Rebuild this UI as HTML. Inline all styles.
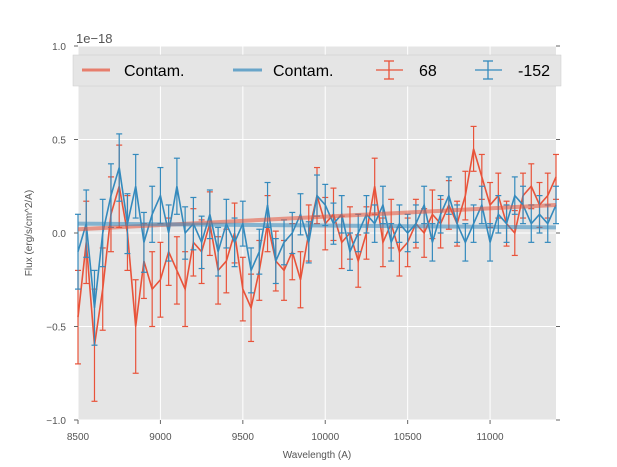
<!DOCTYPE html>
<html><head><meta charset="utf-8"><style>
body{margin:0;background:#fff;font-family:"Liberation Sans",sans-serif}
svg{display:block}
</style></head><body>
<svg width="617" height="467" id="c" xmlns="http://www.w3.org/2000/svg" font-family="Liberation Sans, sans-serif">
<rect x="78" y="46" width="478" height="374" fill="#e5e5e5"/>
<g id="grid"></g><g id="marks"></g><g id="axes"></g>
<text x="76" y="43" font-size="13" fill="#555">1e−18</text>
<text x="317" y="458" font-size="10" text-anchor="middle" fill="#555">Wavelength (A)</text>
<text transform="translate(32,233) rotate(-90)" font-size="10" text-anchor="middle" fill="#555">Flux (erg/s/cm^2/A)</text>
<g>
<rect x="73" y="55" width="488" height="31" fill="#e5e5e5" stroke="#ccc" stroke-width="0.5"/>
<g><line x1="82" y1="70" x2="110" y2="70" stroke="#e8533a" stroke-opacity="0.7" stroke-width="3"/><text x="124" y="76" font-size="16" fill="#000">Contam.</text></g>
<g><line x1="233" y1="70" x2="262" y2="70" stroke="#348abd" stroke-opacity="0.7" stroke-width="3"/><text x="273" y="76" font-size="16" fill="#000">Contam.</text></g>
<g stroke="#e8533a" stroke-width="1.3"><line x1="376" y1="70" x2="403" y2="70"/><line x1="389" y1="61" x2="389" y2="79"/><line x1="384" y1="61" x2="394" y2="61"/><line x1="384" y1="79" x2="394" y2="79"/><text x="419" y="76" font-size="16" fill="#000" stroke="none">68</text></g>
<g stroke="#348abd" stroke-width="1.3"><line x1="475" y1="70" x2="502" y2="70"/><line x1="488" y1="61" x2="488" y2="79"/><line x1="483" y1="61" x2="493" y2="61"/><line x1="483" y1="79" x2="493" y2="79"/><text x="518" y="76" font-size="16" fill="#000" stroke="none">-152</text></g>
</g>
</svg>
<script>
const wave=[8500,8550,8600,8650,8700,8750,8800,8850,8900,8950,9000,9050,9100,9150,9200,9250,9300,9350,9400,9450,9500,9550,9600,9650,9700,9750,9800,9850,9900,9950,10000,10050,10100,10150,10200,10250,10300,10350,10400,10450,10500,10550,10600,10650,10700,10750,10800,10850,10900,10950,11000,11050,11100,11150,11200,11250,11300,11350,11400];
const redFlux=[-0.45,-0.05,-0.6,-0.3,0.1,0.25,0.0,-0.5,-0.15,-0.3,-0.25,-0.1,-0.2,-0.3,-0.05,-0.1,0.05,-0.2,-0.15,0.0,-0.3,-0.4,-0.2,0.05,-0.15,-0.2,-0.1,-0.25,0.0,0.2,0.05,0.1,-0.05,0.0,-0.15,0.0,0.25,-0.05,0.05,-0.1,-0.05,0.05,0.0,0.1,0.05,0.15,0.05,0.2,0.45,0.3,0.15,0.2,0.05,0.0,0.2,0.25,0.15,0.2,0.3];
const redErr=[0.25,0.22,0.3,0.22,0.2,0.22,0.2,0.25,0.2,0.2,0.2,0.18,0.18,0.2,0.18,0.17,0.17,0.18,0.17,0.16,0.17,0.18,0.16,0.15,0.16,0.16,0.15,0.15,0.15,0.15,0.14,0.14,0.14,0.14,0.14,0.14,0.15,0.13,0.13,0.13,0.13,0.13,0.13,0.13,0.13,0.13,0.12,0.13,0.12,0.12,0.12,0.12,0.12,0.12,0.12,0.12,0.12,0.12,0.12];
const blueFlux=[-0.1,0.05,-0.4,0.0,0.2,0.35,0.05,0.25,-0.05,0.1,0.2,0.0,0.25,0.0,0.05,-0.05,0.1,-0.1,0.05,-0.05,0.05,-0.2,-0.1,0.15,-0.15,-0.05,0.0,0.1,-0.05,0.2,0.15,0.05,0.1,-0.1,0.0,0.1,0.05,0.15,-0.05,0.05,0.0,0.05,0.15,-0.05,0.1,0.2,0.05,-0.05,0.05,0.15,-0.05,0.1,0.05,0.2,0.15,0.05,0.1,0.05,0.15];
const blueErr=[0.2,0.18,0.2,0.18,0.17,0.18,0.16,0.17,0.16,0.15,0.15,0.15,0.15,0.14,0.14,0.14,0.13,0.13,0.13,0.13,0.12,0.12,0.12,0.12,0.12,0.12,0.11,0.11,0.11,0.11,0.11,0.11,0.1,0.1,0.1,0.1,0.1,0.1,0.1,0.1,0.1,0.1,0.1,0.1,0.1,0.1,0.1,0.1,0.1,0.1,0.1,0.1,0.1,0.1,0.1,0.1,0.1,0.1,0.1];
const contamX=[8500,11400];
const redContam=[0.02,0.15];
const blueContam=[0.05,0.03];
const xTicks=[8500,9000,9500,10000,10500,11000];
const yTicks=[-1.0,-0.5,0.0,0.5,1.0];
const yTickLabels=["−1.0","−0.5","0.0","0.5","1.0"];

const X0=78,X1=556,Y0=420,Y1=46,XMIN=8500,XMAX=11400,YMIN=-1,YMAX=1;
const sx=v=>X0+(v-XMIN)/(XMAX-XMIN)*(X1-X0);
const sy=v=>Y0-(v-YMIN)/(YMAX-YMIN)*(Y0-Y1);
const NS="http://www.w3.org/2000/svg";
function mk(t,a,p){const e=document.createElementNS(NS,t);for(const k in a)e.setAttribute(k,a[k]);p.appendChild(e);return e;}
const grid=document.getElementById('grid'),marks=document.getElementById('marks'),axes=document.getElementById('axes');
xTicks.forEach(t=>{
  const l=mk('line',{x1:sx(t),x2:sx(t),y1:Y1,y2:Y0,stroke:'#fff','stroke-width':1},grid);
  
  
  const tk=mk('line',{x1:sx(t),x2:sx(t),y1:Y0,y2:Y0+4,stroke:'#666'},axes);
  
  
  const tx=mk('text',{x:sx(t),y:Y0+20,'font-size':10,'text-anchor':'middle',fill:'#555'},axes);
  tx.textContent=t;
  
  
});
yTicks.forEach((t,i)=>{
  const l=mk('line',{x1:X0,x2:X1,y1:sy(t),y2:sy(t),stroke:'#fff','stroke-width':1},grid);
  
  
  const tk=mk('line',{x1:X0-4,x2:X0,y1:sy(t),y2:sy(t),stroke:'#666'},axes);
  
  
  const tk2=mk('line',{x1:X1,x2:X1+4,y1:sy(t),y2:sy(t),stroke:'#666'},axes);
  
  
  const tx=mk('text',{x:X0-12,y:sy(t)+4,'font-size':10,'text-anchor':'end',fill:'#555'},axes);
  tx.textContent=yTickLabels[i];
  
  
});
function contam(vals,color,name){
  const l=mk('line',{x1:sx(contamX[0]),x2:sx(contamX[1]),y1:sy(vals[0]),y2:sy(vals[1]),stroke:color,'stroke-width':4,'stroke-opacity':0.55},marks);
  
  
}
function series(flux,err,color,name){
  const g=mk('g',{stroke:color,'stroke-width':1.2,fill:'none'},marks);
  
  
  flux.forEach((v,i)=>{
    const x=sx(wave[i]),a=sy(v+err[i]),b=sy(v-err[i]);
    mk('line',{x1:x,x2:x,y1:a,y2:b},g);
    mk('line',{x1:x-3,x2:x+3,y1:a,y2:a},g);
    mk('line',{x1:x-3,x2:x+3,y1:b,y2:b},g);
  });
  const p=mk('polyline',{points:flux.map((v,i)=>sx(wave[i])+','+sy(v)).join(' '),'stroke-width':1.6},g);
  
  
}
series(redFlux,redErr,'#e8533a','series-68');
series(blueFlux,blueErr,'#348abd','series-minus152');
contam(redContam,'#e8533a','contam-red-line');
contam(blueContam,'#348abd','contam-blue-line');
</script>
</body></html>
